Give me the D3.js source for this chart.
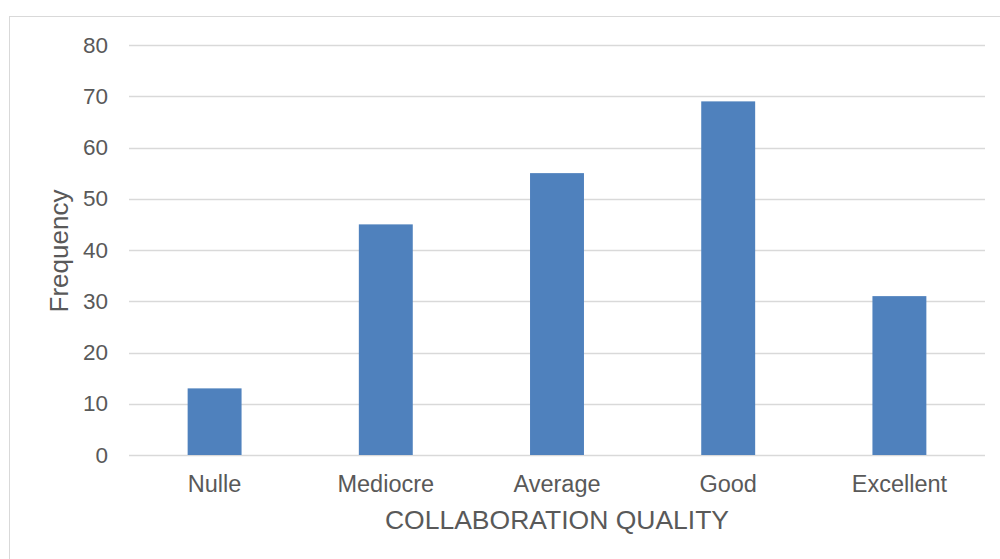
<!DOCTYPE html>
<html>
<head>
<meta charset="utf-8">
<script src="https://cdn.jsdelivr.net/npm/d3@7"></script>
<style>
  body { margin: 0; background: #fff; }
  text { font-family: "Liberation Sans", Arial, sans-serif; fill: #595959; }
</style>
</head>
<body>
<svg width="1000" height="559"></svg>
<script>
const categories = ["Nulle", "Mediocre", "Average", "Good", "Excellent"];
const frequencies = [13, 45, 55, 69, 31];
const yTicks = [0, 10, 20, 30, 40, 50, 60, 70, 80];

const svg = d3.select("svg");

// cadre du graphique
svg.append("rect")
    .attr("x", 9.5).attr("y", 16.5)
    .attr("width", 1000).attr("height", 600)
    .attr("fill", "none")
    .attr("stroke", "#d9d9d9");

const plotLeft = 129, plotRight = 985, plotTop = 45, plotBottom = 455;

const x = d3.scaleBand()
    .domain(categories)
    .range([plotLeft, plotRight])
    .paddingInner(0.685)
    .paddingOuter(0.3425);

const y = d3.scaleLinear()
    .domain([0, 80])
    .range([plotBottom, plotTop]);

// grille
svg.append("g")
    .selectAll("line")
    .data(yTicks)
    .join("line")
    .attr("x1", plotLeft).attr("x2", plotRight)
    .attr("y1", d => Math.round(y(d)) + 0.5)
    .attr("y2", d => Math.round(y(d)) + 0.5)
    .attr("stroke", "#d9d9d9")
    .attr("stroke-width", 1.3);

// barres
svg.append("g")
    .selectAll("rect")
    .data(categories)
    .join("rect")
    .attr("x", d => x(d))
    .attr("y", (d, i) => y(frequencies[i]))
    .attr("width", x.bandwidth())
    .attr("height", (d, i) => y(0) - y(frequencies[i]))
    .attr("fill", "#4f81bd");

// axe y
const yAxis = svg.append("g")
    .attr("transform", `translate(${plotLeft - 21},0)`)
    .call(d3.axisLeft(y).tickValues(yTicks).tickSize(0).tickPadding(0));
yAxis.select(".domain").remove();
yAxis.selectAll("text")
    .attr("font-size", 22.5)
    .attr("fill", "#595959")
    .attr("font-family", "Liberation Sans, Arial, sans-serif");

// axe x
const xAxis = svg.append("g")
    .attr("transform", `translate(0,${plotBottom + 20})`)
    .call(d3.axisBottom(x).tickSize(0).tickPadding(0));
xAxis.select(".domain").remove();
xAxis.selectAll("text")
    .attr("font-size", 23.5)
    .attr("fill", "#595959")
    .attr("font-family", "Liberation Sans, Arial, sans-serif");

// titres
svg.append("text")
    .attr("x", (plotLeft + plotRight) / 2 + 0)
    .attr("y", 529)
    .attr("text-anchor", "middle")
    .attr("font-size", 26.5)
    .text("COLLABORATION QUALITY");

svg.append("text")
    .attr("transform", `translate(68,${(plotTop + plotBottom) / 2 + 1}) rotate(-90)`)
    .attr("text-anchor", "middle")
    .attr("font-size", 26)
    .text("Frequency");
</script>
</body>
</html>
